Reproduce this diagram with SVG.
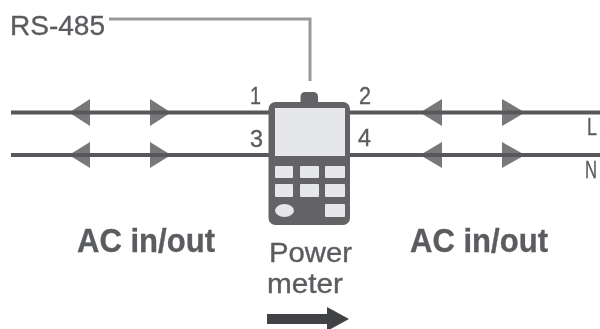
<svg xmlns="http://www.w3.org/2000/svg" width="600" height="329" viewBox="0 0 600 329">
  <style>
    text { font-family: "Liberation Sans", Arial, sans-serif; fill: #5a5c5f; stroke: #5a5c5f; stroke-width: 0.35; }
    .lbl { font-size: 28px; }
    .num { font-size: 23px; }
    .big { font-size: 34px; font-weight: bold; }
    .wire { stroke: #58595b; stroke-width: 4; fill: none; }
    .head { fill: #77787a; }
    .key { fill: #e6e7e8; }
  </style>
  <defs>
    <filter id="soft" x="-5%" y="-5%" width="110%" height="110%"><feGaussianBlur stdDeviation="0.6"/></filter>
  </defs>
  <g filter="url(#soft)">
    <g id="connectors">
      <path d="M109 19H310V81" fill="none" stroke="#98999b" stroke-width="3"/>
      <path class="head" d="M69 112.500L90 99V126ZM171 112.500L150 99V126ZM69 155L90 142V168ZM171 155L150 142V168Z"/>
      <path class="head" d="M420 112.500L442 99V126ZM525 112.500L502 99V126ZM420 155L442 142V168ZM525 155L502 142V168Z"/>
      <path class="wire" d="M11 112.500H269M11 155H269M350 112.500H600M350 155H600"/>
      <path fill="#414244" d="M267 314H327V307L349 319L327 331V324H267Z"/>
    </g>
    <g id="power-meter">
      <path d="M300.500 103V97Q300.500 92 305.500 92H313Q318 92 318 97V103Z" fill="#636466"/>
      <rect x="268.500" y="102" width="81.500" height="123" rx="7" fill="#636466"/>
      <rect x="275" y="108" width="70" height="48" fill="#e6e7e8"/>
      <rect class="key" x="275" y="166" width="18" height="12" rx="1"/>
      <rect class="key" x="300" y="166" width="19" height="12" rx="1"/>
      <rect class="key" x="325" y="166" width="20" height="12" rx="1"/>
      <rect class="key" x="275" y="184" width="18" height="13" rx="1"/>
      <rect class="key" x="300" y="184" width="19" height="13" rx="1"/>
      <rect class="key" x="325" y="184" width="20" height="13" rx="1"/>
      <ellipse class="key" cx="284.500" cy="210.500" rx="9.500" ry="6.500"/>
      <rect class="key" x="325" y="204" width="20" height="13" rx="1"/>
    </g>
    <g id="labels">
      <text class="lbl" x="10" y="35" textLength="95" lengthAdjust="spacingAndGlyphs">RS-485</text>
      <text class="num" x="250" y="104" textLength="11" lengthAdjust="spacingAndGlyphs">1</text>
      <text class="num" x="250" y="147" textLength="13" lengthAdjust="spacingAndGlyphs">3</text>
      <text class="num" x="359" y="104" textLength="12" lengthAdjust="spacingAndGlyphs">2</text>
      <text class="num" x="358" y="146" textLength="13" lengthAdjust="spacingAndGlyphs">4</text>
      <text class="num" x="587" y="135" textLength="10" lengthAdjust="spacingAndGlyphs">L</text>
      <text class="num" x="585" y="178" textLength="12" lengthAdjust="spacingAndGlyphs">N</text>
      <text class="big" x="77" y="252" textLength="138" lengthAdjust="spacingAndGlyphs">AC in/out</text>
      <text class="big" x="410" y="252" textLength="138" lengthAdjust="spacingAndGlyphs">AC in/out</text>
      <text class="lbl" x="269" y="262" textLength="83" lengthAdjust="spacingAndGlyphs">Power</text>
      <text class="lbl" x="267" y="293" textLength="76" lengthAdjust="spacingAndGlyphs">meter</text>
    </g>
  </g>
</svg>
